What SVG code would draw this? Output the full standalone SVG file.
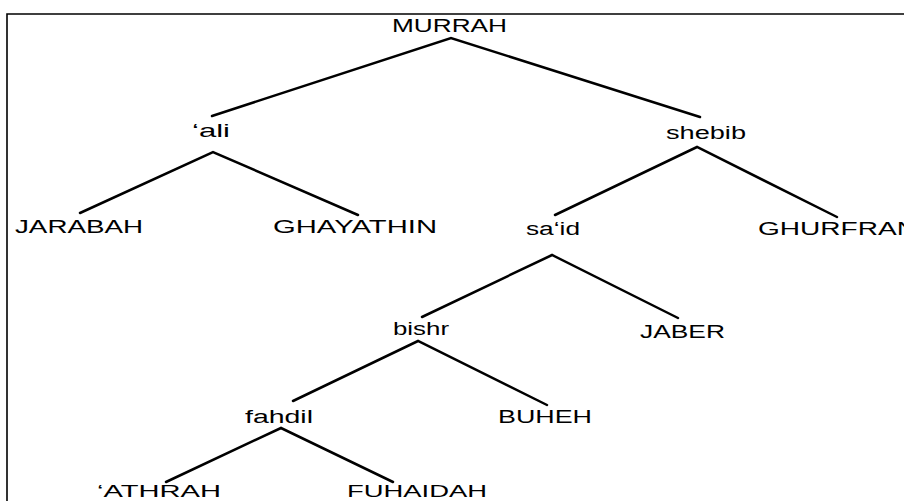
<svg xmlns="http://www.w3.org/2000/svg" width="904" height="501" viewBox="0 0 904 501">
<style>
.lbl{font-family:"Liberation Sans",Arial,sans-serif;font-size:18px;fill:#000}
.low{font-size:17px}
.edge{stroke:#000;stroke-width:2.5;fill:none;stroke-linecap:round}
.frame{stroke:#000;stroke-width:1.6;fill:none}
</style>
<rect width="904" height="501" fill="#fff"/>
<path class="frame" d="M7,501 V14 H904"/>
<g id="connectors">
<polyline class="edge" points="212,116 451,38 700,117"/>
<polyline class="edge" points="80,213 213,152 358,215"/>
<polyline class="edge" points="555,215 697,147 837,217"/>
<polyline class="edge" points="422,317 552,255 678,318"/>
<polyline class="edge" points="293,401 418,341 547,405"/>
<polyline class="edge" points="166,482 281,428 393,482"/>
</g>
<g id="MURRAH"><text class="lbl" x="392" y="32" textLength="115" lengthAdjust="spacingAndGlyphs">MURRAH</text></g>
<g id="ali"><text class="lbl" x="192" y="137" textLength="38" lengthAdjust="spacingAndGlyphs">‘ali</text></g>
<g id="shebib"><text class="lbl" x="666" y="139" textLength="80" lengthAdjust="spacingAndGlyphs">shebib</text></g>
<g id="JARABAH"><text class="lbl" x="15" y="233" textLength="128" lengthAdjust="spacingAndGlyphs">JARABAH</text></g>
<g id="GHAYATHIN"><text class="lbl" x="273" y="233" textLength="164" lengthAdjust="spacingAndGlyphs">GHAYATHIN</text></g>
<g id="said"><text class="lbl" x="526" y="235" textLength="54" lengthAdjust="spacingAndGlyphs">sa‘id</text></g>
<g id="GHURFRAN"><text class="lbl" x="758" y="235" textLength="159" lengthAdjust="spacingAndGlyphs">GHURFRAN</text></g>
<g id="bishr"><text class="lbl" x="393" y="335" textLength="56" lengthAdjust="spacingAndGlyphs">bishr</text></g>
<g id="JABER"><text class="lbl" x="640" y="338" textLength="85" lengthAdjust="spacingAndGlyphs">JABER</text></g>
<g id="fahdil"><text class="lbl" x="245" y="423" textLength="68" lengthAdjust="spacingAndGlyphs">fahdil</text></g>
<g id="BUHEH"><text class="lbl" x="498" y="423" textLength="94" lengthAdjust="spacingAndGlyphs">BUHEH</text></g>
<g id="ATHRAH"><text class="lbl low" x="97" y="497" textLength="124" lengthAdjust="spacingAndGlyphs">‘ATHRAH</text></g>
<g id="FUHAIDAH"><text class="lbl low" x="347" y="497" textLength="140" lengthAdjust="spacingAndGlyphs">FUHAIDAH</text></g>
</svg>
